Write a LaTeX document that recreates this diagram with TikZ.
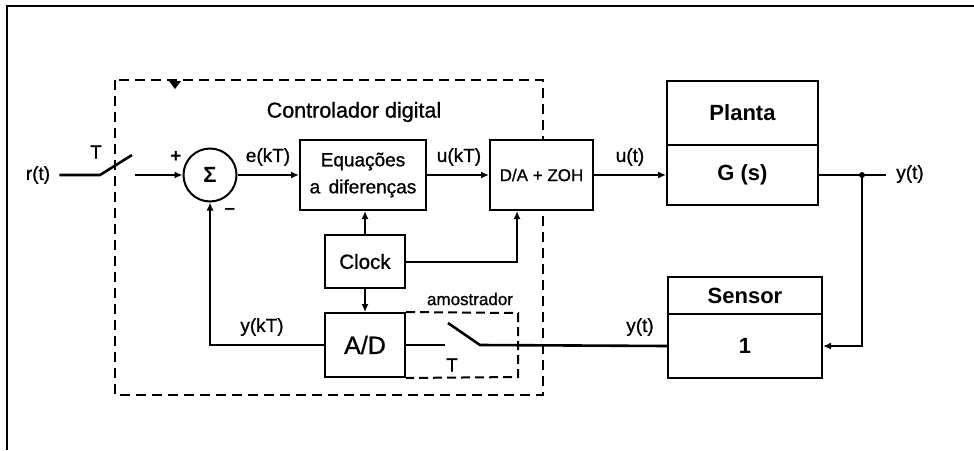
\documentclass[tikz,border=0pt]{standalone}
\usepackage{fontspec}
\setmainfont{Liberation Sans}[FakeBold=0.9]
\newfontfamily\heavy{Liberation Sans Bold}
\usetikzlibrary{arrows.meta,calc}
\newcommand{\fs}[1]{\fontsize{#1}{#1}\selectfont}
\tikzset{
  blk/.style={draw, fill=white, line width=2pt, minimum width=#1, inner sep=0pt, align=center},
  sig/.style={line width=2.6pt},
  arr/.style={sig, -{Latex[length=8pt,width=7pt]}},
  lbl/.style={font=\fs{19}, inner sep=0pt},
  bold/.style={font=\fs{22}\heavy},
  ctrlbox/.style={line width=2.2pt, dash pattern=on 10pt off 6pt},
}
\begin{document}
\begin{tikzpicture}[x=1pt,y=-1pt]
\useasboundingbox (0,0) rectangle (974,450);
% page frame
\draw[line width=1.3pt] (7,450) -- (7,6) -- (974,6);

% digital controller outline
\draw[ctrlbox] (115,80) rectangle (543,395);
\fill (169,81) -- (181,81) -- (175,89) -- cycle;
\node[font=\fs{21.5}] (ctl) at (354,112) {Controlador digital};

% blocks
\node[circle, draw, fill=white, line width=2pt, minimum size=53pt, inner sep=0pt,
      font=\fs{22}\heavy] (sum) at (210,175) {Σ};
\node[blk=126pt, minimum height=70pt, font=\fontsize{19}{27}\selectfont] (eq) at (363,175) {Equações\\ a\, diferenças};
\node[blk=103pt, minimum height=70pt, font=\fs{17}] (da) at (541.5,175) {D/A + ZOH};
\node[blk=151pt, minimum height=64pt, bold] (pl) at (742.5,113) {Planta};
\node[blk=151pt, minimum height=60pt, bold] (gs) at (742.5,175) {G (s)};
\node[blk=154pt, minimum height=37pt, bold] (sn) at (745,295.5) {Sensor};
\node[blk=154pt, minimum height=64pt, bold] (one) at (745,346) {1};
\node[blk=80pt, minimum height=53pt, font=\fs{20.5}] (clk) at (365,261.5) {Clock};
\node[blk=80pt, minimum height=64pt, font=\fs{25}] (ad) at (365,345) {A/D};
\draw[line width=2pt, dash pattern=on 9pt off 5pt] (ad.north east) -- (518,313) -- (518,377) -- (ad.south east);
\node[font=\fs{17}] (amo) at (470,299) {amostrador};

% input sampler
\node[lbl] (rt) at (38,175) {r(t)};
\node[lbl] (t1) at (96,152) {T};
\coordinate (s1a) at (100,175);
\coordinate (s1b) at (132,155);
\coordinate (s1c) at (135,175);
\draw[sig] (rt.east) ++(9pt,0) -- (s1a) -- (s1b);
\draw[arr] (s1c) -- (sum.west);
\node[lbl, font=\fs{19}\heavy] (plus) at (176,157) {+};
\node[lbl, font=\fs{19}\heavy] (minus) at (230,211) {–};

% forward path
\draw[arr] (sum.east) -- (eq.west);
\node[lbl] (ekt) at (268,157) {e(kT)};
\draw[arr] (eq.east) -- (da.west);
\node[lbl] (ukt) at (459,157) {u(kT)};
\draw[arr] (da.east) -- (gs.west);
\node[lbl] (ut) at (630,157) {u(t)};
\coordinate (jn) at (862,175);
\coordinate (yend) at (886,175);
\draw[sig] (gs.east) -- (yend);
\fill (jn) circle (3pt);
\node[lbl] (yt) at (910,174) {y(t)};

% feedback path
\draw[arr] (jn) |- (one.east);
\coordinate (s2a) at (480,345);
\coordinate (s2b) at (448,323);
\coordinate (s2c) at (445,345);
\draw[sig] (one.west) -- (s2a) -- (s2b);
\draw[sig] (ad.east) -- (s2c);
\node[lbl] (t2) at (452,365) {T};
\node[lbl] (yt2) at (640,327) {y(t)};
\draw[arr] (ad.west) -| (sum.south);
\node[lbl] (ykt) at (262,327) {y(kT)};

% clock distribution
\draw[arr] (clk.north) -- (clk.north |- eq.south);
\draw[arr] (clk.south) -- (ad.north);
\coordinate (ck) at (517,262);
\draw[arr] (clk.east |- ck) -- (ck) -- (ck |- da.south);
\end{tikzpicture}
\end{document}
